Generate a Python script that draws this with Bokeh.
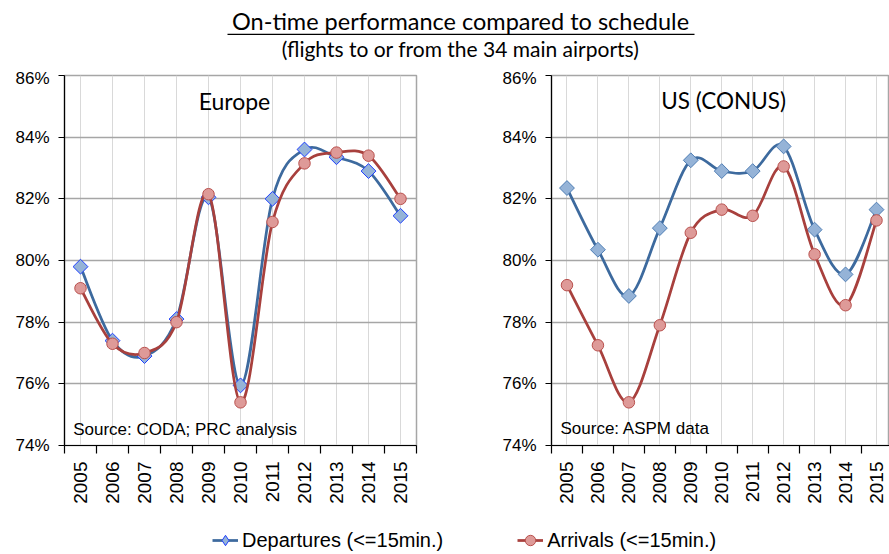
import numpy as np
from bokeh.plotting import figure
from bokeh.layouts import column, row
from bokeh.models import (Range1d, FixedTicker, PrintfTickFormatter, Label,
                          BoxAnnotation, Legend, LegendItem)
from bokeh.embed import file_html
from bokeh.resources import INLINE

# ---------------- data ----------------
years = [2005, 2006, 2007, 2008, 2009, 2010, 2011, 2012, 2013, 2014, 2015]
eu_departures = [79.8, 77.4, 76.9, 78.1, 82.05, 75.95, 82.0, 83.6, 83.35, 82.9, 81.45]
eu_arrivals = [79.1, 77.3, 77.0, 78.0, 82.15, 75.4, 81.25, 83.15, 83.5, 83.4, 82.0]
us_departures = [82.35, 80.35, 78.85, 81.05, 83.25, 82.9, 82.9, 83.7, 81.0, 79.55, 81.65]
us_arrivals = [79.2, 77.25, 75.4, 77.9, 80.9, 81.65, 81.45, 83.05, 80.2, 78.55, 81.3]
y_ticks = [74, 76, 78, 80, 82, 84, 86]

title_text = "On-time performance compared to schedule"
subtitle_text = "(flights to or from the 34 main airports)"
legend_dep = "Departures (<=15min.)"
legend_arr = "Arrivals (<=15min.)"

DEP_LINE = "#3D6A9E"
DEP_FILL = "#95B3D7"
ARR_LINE = "#A8403D"
ARR_FILL = "#DE9A98"
ARR_EDGE = "#B9504D"


def bezier_segments(xs, ys):
    """Smoothed-line control points (Catmull-Rom style) through the data."""
    n = len(xs)
    out = {k: [] for k in ("x0", "y0", "x1", "y1", "cx0", "cy0", "cx1", "cy1")}
    for i in range(n - 1):
        a = i - 1 if i > 0 else i
        d = i + 2 if i + 2 < n else i + 1
        out["x0"].append(xs[i]); out["y0"].append(ys[i])
        out["x1"].append(xs[i + 1]); out["y1"].append(ys[i + 1])
        out["cx0"].append(xs[i] + (xs[i + 1] - xs[a]) / 6.0)
        out["cy0"].append(ys[i] + (ys[i + 1] - ys[a]) / 6.0)
        out["cx1"].append(xs[i + 1] - (xs[d] - xs[i]) / 6.0)
        out["cy1"].append(ys[i + 1] - (ys[d] - ys[i]) / 6.0)
    return out


def make_chart(dep, arr, xmax, width, bleft, bright, name, name_x, name_y,
               name_size, source, src_x, src_y, dep_edge):
    p = figure(width=width, height=442, x_range=Range1d(2004.5, xmax),
               y_range=Range1d(74, 86), toolbar_location=None,
               output_backend="svg", min_border_left=bleft,
               min_border_right=bright, min_border_top=7,
               min_border_bottom=65, background_fill_color="white",
               border_fill_color="white", outline_line_color="#A6A6A6",
               outline_line_width=1.5)
    # x axis
    p.xaxis.ticker = FixedTicker(ticks=years,
                                 minor_ticks=[y - 0.5 for y in years] + [years[-1] + 0.5])
    p.xaxis.major_label_orientation = np.pi / 2
    p.xaxis.major_tick_line_color = None
    p.xaxis.major_tick_out = 8
    p.xaxis.major_tick_in = 0
    p.xaxis.minor_tick_out = 8
    p.xaxis.minor_tick_in = 0
    p.xaxis.minor_tick_line_color = "black"
    p.xaxis.major_label_standoff = 8
    p.xaxis.major_label_text_font = "Liberation Sans"
    p.xaxis.major_label_text_font_size = "19px"
    p.xaxis.major_label_text_color = "black"
    # y axis
    p.yaxis.ticker = FixedTicker(ticks=y_ticks)
    p.yaxis.formatter = PrintfTickFormatter(format="%d%%")
    p.yaxis.minor_tick_line_color = None
    p.yaxis.major_tick_out = 6
    p.yaxis.major_tick_in = 0
    p.yaxis.major_label_standoff = 9
    p.yaxis.major_label_text_font = "Liberation Sans"
    p.yaxis.major_label_text_font_size = "17px"
    p.yaxis.major_label_text_color = "black"
    for ax in (p.xaxis, p.yaxis):
        ax.axis_line_color = "black"
        ax.axis_line_width = 1.2
        ax.major_tick_line_width = 1.2
    p.xaxis.minor_tick_line_width = 1.2
    # grids
    p.xgrid.grid_line_color = "#D9D9D9"
    p.xgrid.grid_line_width = 1
    p.ygrid.grid_line_color = "#A6A6A6"
    p.ygrid.grid_line_width = 1.5

    # departures
    b = bezier_segments(years, dep)
    p.bezier(source=b, x0="x0", y0="y0", x1="x1", y1="y1", cx0="cx0", cy0="cy0",
             cx1="cx1", cy1="cy1", line_color=DEP_LINE, line_width=2.75,
             line_cap="round")
    p.scatter(years, dep, marker="square", angle=np.pi / 4, size=10.5,
              fill_color=DEP_FILL, line_color=dep_edge, line_width=1)
    # arrivals
    b = bezier_segments(years, arr)
    p.bezier(source=b, x0="x0", y0="y0", x1="x1", y1="y1", cx0="cx0", cy0="cy0",
             cx1="cx1", cy1="cy1", line_color=ARR_LINE, line_width=2.75,
             line_cap="round")
    p.scatter(years, arr, marker="circle", size=11.5,
              fill_color=ARR_FILL, line_color=ARR_EDGE, line_width=1)

    p.add_layout(Label(x=name_x, y=name_y, text=name, text_align="center",
                       text_baseline="alphabetic", text_font="Lato",
                       text_font_size=name_size, text_color="black"))
    p.add_layout(Label(x=src_x, y=src_y, text=source, text_align="left",
                       text_baseline="alphabetic", text_font="Liberation Sans",
                       text_font_size="17px", text_color="black"))
    return p


p1 = make_chart(eu_departures, eu_arrivals, 2015.5, width=436, bleft=64, bright=20,
                name="Europe", name_x=2009.81, name_y=85.18, name_size="23px",
                source="Source: CODA; PRC analysis",
                src_x=2004.77, src_y=74.51, dep_edge="#1F3FFF")
p2 = make_chart(us_departures, us_arrivals, 2015.42, width=453, bleft=115, bright=0,
                name="US (CONUS)", name_x=2010.06, name_y=85.18, name_size="22.5px",
                source="Source: ASPM data",
                src_x=2004.79, src_y=74.55, dep_edge="#4F7EB5")

# ---------------- title ----------------
tf = figure(width=889, height=68, x_range=Range1d(0, 889), y_range=Range1d(0, 68),
            toolbar_location=None, output_backend="svg", min_border=0,
            outline_line_color=None)
tf.axis.visible = False
tf.grid.visible = False
tf.add_layout(Label(x=460, y=48, text=title_text, text_align="center",
                    text_baseline="alphabetic", text_font="Lato",
                    text_font_size="23.5px", text_color="black"))
tf.add_layout(BoxAnnotation(left=227, right=694, bottom=33.4, top=34.8,
                            fill_color="black", fill_alpha=1, line_color=None))
tf.add_layout(Label(x=460, y=20, text=subtitle_text, text_align="center",
                    text_baseline="alphabetic", text_font="Lato",
                    text_font_size="21px", text_color="black"))

# ---------------- legend ----------------
lf = figure(width=889, height=42, x_range=Range1d(0, 1), y_range=Range1d(0, 1),
            toolbar_location=None, output_backend="svg", min_border=0,
            outline_line_color=None)
lf.axis.visible = False
lf.grid.visible = False
# legend renderers carry the series' first point, which lies outside this strip's view
rl1 = lf.line(years[:1], eu_departures[:1], line_color=DEP_LINE, line_width=2.75)
rm1 = lf.scatter(years[:1], eu_departures[:1], marker="diamond", fill_color=DEP_FILL,
                 line_color="#1F3FFF", line_width=1)
rl2 = lf.line(years[:1], eu_arrivals[:1], line_color=ARR_LINE, line_width=2.75)
rm2 = lf.scatter(years[:1], eu_arrivals[:1], marker="circle", fill_color=ARR_FILL,
                 line_color=ARR_EDGE, line_width=1)
legend = Legend(items=[LegendItem(label=legend_dep, renderers=[rl1, rm1]),
                       LegendItem(label=legend_arr, renderers=[rl2, rm2])],
                orientation="horizontal", location=(212, -2), padding=0, margin=0,
                spacing=74, glyph_width=26, glyph_height=28, label_height=28,
                label_standoff=4, border_line_color=None,
                background_fill_alpha=0, label_text_font="Liberation Sans",
                label_text_font_size="20px", label_text_color="black")
lf.add_layout(legend, "center")

layout = column(tf, row(p1, p2), lf)
open("out.html", "w").write(file_html(layout, INLINE))
